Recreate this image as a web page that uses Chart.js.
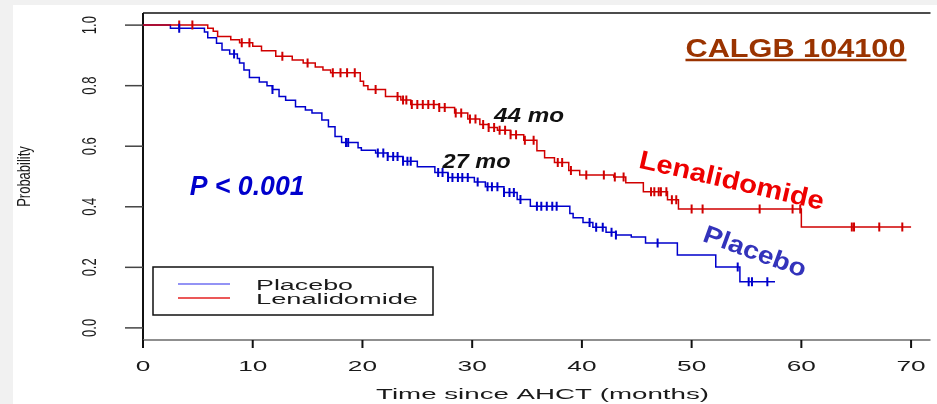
<!DOCTYPE html>
<html>
<head>
<meta charset="utf-8">
<title>CALGB 104100</title>
<script src="https://cdn.jsdelivr.net/npm/chart.js@4.4.0/dist/chart.umd.min.js"></script>
<style>
  html, body { margin: 0; padding: 0; background: #f1f1f1; }
  #wrap { position: absolute; left: 13px; top: 5px; width: 924px; height: 399px; background: #fff; }
</style>
</head>
<body>
<div id="wrap"><canvas id="kmChart" width="924" height="399"></canvas></div>
<script>
const seriesNames = ['Placebo', 'Lenalidomide'];

// Kaplan-Meier steps: time (months) and survival after the drop
const placeboTimes = [0, 2.5, 5.6, 5.9, 6.7, 7.2, 7.9, 8.6, 8.8, 9.2, 9.7, 10.6, 11.3, 11.8, 12.4, 13.0, 13.9, 14.8, 15.4, 16.3, 16.9, 17.5, 18.1, 19.6, 19.9, 21.2, 22.3, 23.7, 25.0, 26.6, 27.8, 30.2, 31.2, 32.9, 34.1, 35.3, 38.9, 39.2, 40.1, 41.0, 42.2, 43.1, 44.5, 45.8, 48.7, 52.2, 54.4, 57.6];
const placeboSurv = [1.0, 0.99, 0.977, 0.958, 0.94, 0.918, 0.905, 0.89, 0.875, 0.852, 0.827, 0.812, 0.80, 0.787, 0.764, 0.752, 0.73, 0.72, 0.71, 0.687, 0.664, 0.632, 0.612, 0.595, 0.587, 0.578, 0.566, 0.55, 0.532, 0.513, 0.497, 0.482, 0.466, 0.447, 0.424, 0.402, 0.378, 0.364, 0.348, 0.332, 0.316, 0.307, 0.30, 0.28, 0.241, 0.201, 0.152, 0.152];
const placeboCensor = [3.3, 8.3, 11.8, 18.5, 18.7, 21.4, 21.9, 22.3, 22.8, 23.2, 23.7, 24.1, 24.4, 26.9, 27.3, 27.8, 28.2, 28.7, 29.1, 29.6, 30.5, 31.4, 31.8, 32.3, 32.9, 33.4, 33.8, 34.4, 35.9, 36.3, 36.8, 37.3, 37.7, 40.7, 41.3, 41.9, 42.7, 43.1, 46.9, 54.2, 55.2, 55.5, 56.9];

const lenaTimes = [0, 5.9, 6.4, 6.8, 8.0, 8.8, 10.0, 10.8, 12.1, 13.6, 14.6, 15.7, 16.4, 17.1, 19.8, 20.1, 20.5, 22.1, 23.5, 24.4, 27.0, 28.4, 29.6, 30.7, 31.5, 32.3, 33.5, 34.7, 35.9, 36.6, 37.5, 38.8, 39.8, 42.9, 44.0, 45.6, 47.8, 48.8, 60.0, 70.0];
const lenaSurv = [1.0, 0.99, 0.98, 0.962, 0.952, 0.942, 0.93, 0.915, 0.897, 0.885, 0.875, 0.862, 0.852, 0.843, 0.815, 0.80, 0.787, 0.764, 0.753, 0.738, 0.728, 0.71, 0.69, 0.672, 0.662, 0.653, 0.638, 0.62, 0.585, 0.562, 0.546, 0.52, 0.505, 0.498, 0.479, 0.45, 0.423, 0.393, 0.333, 0.333];
const lenaCensor = [3.3, 4.5, 9.0, 9.7, 12.7, 15.0, 17.3, 18.0, 18.6, 19.3, 21.2, 23.2, 23.7, 24.0, 24.5, 25.0, 25.5, 26.0, 26.5, 27.0, 27.5, 28.5, 29.0, 29.8, 30.3, 31.0, 31.5, 32.0, 32.5, 33.0, 33.5, 34.0, 34.8, 35.6, 37.8, 38.2, 39.0, 40.4, 42.0, 43.0, 43.8, 46.3, 46.6, 47.0, 47.2, 47.7, 48.2, 48.6, 50.0, 51.0, 56.2, 59.2, 59.9, 64.6, 64.8, 67.1, 69.2];

const xTicks = [0, 10, 20, 30, 40, 50, 60, 70];
const yTicks = [0, 0.2, 0.4, 0.6, 0.8, 1.0];
const yTickLabels = ['0.0', '0.2', '0.4', '0.6', '0.8', '1.0'];

const placeboColor = '#0000cc';
const lenaColor = '#d00000';
const rFont = '"Liberation Sans", Arial, sans-serif';

// survival value of a step curve at time t
function survAt(times, surv, t) {
  let s = surv[0];
  for (let i = 0; i < times.length; i++) {
    if (times[i] <= t) s = surv[i];
  }
  return s;
}

function toPoints(times, surv) {
  return times.map((t, i) => ({ x: t, y: surv[i] }));
}

function censorPoints(censor, times, surv) {
  return censor.map(t => ({ x: t, y: survAt(times, surv, t) }));
}

// text squeezed or widened to a given width
function fitText(ctx, text, x, y, o) {
  ctx.save();
  ctx.font = o.font;
  ctx.fillStyle = o.color;
  ctx.textAlign = 'left';
  ctx.textBaseline = o.baseline || 'alphabetic';
  const w = ctx.measureText(text).width;
  const sx = o.width ? o.width / w : (o.sx || 1);
  ctx.translate(x, y);
  if (o.angle) ctx.rotate(o.angle * Math.PI / 180);
  ctx.scale(sx, 1);
  let dx = 0;
  if (o.align === 'center') dx = -w / 2;
  if (o.align === 'right') dx = -w;
  ctx.fillText(text, dx, 0);
  ctx.restore();
}

const axesPlugin = {
  id: 'rAxes',
  beforeDatasetsDraw(chart) {
    const { ctx, chartArea: a, scales: { x, y } } = chart;
    ctx.save();
    // frame: top and left lines, bottom axis
    ctx.strokeStyle = '#111';
    ctx.lineWidth = 1.5;
    ctx.beginPath();
    ctx.moveTo(a.left, a.top);
    ctx.lineTo(a.right, a.top);
    ctx.stroke();
    ctx.lineWidth = 2;
    ctx.beginPath();
    ctx.moveTo(a.left, a.top);
    ctx.lineTo(a.left, a.bottom + 8);
    ctx.stroke();
    ctx.strokeStyle = '#6a6a6a';
    ctx.lineWidth = 1.5;
    ctx.beginPath();
    ctx.moveTo(a.left, a.bottom);
    ctx.lineTo(a.right, a.bottom);
    ctx.stroke();

    // x ticks and labels
    ctx.strokeStyle = '#111';
    ctx.lineWidth = 2;
    xTicks.forEach(v => {
      const px = x.getPixelForValue(v);
      ctx.beginPath();
      ctx.moveTo(px, a.bottom);
      ctx.lineTo(px, a.bottom + 8);
      ctx.stroke();
      fitText(ctx, String(v), px, a.bottom + 30.5, { font: '15px ' + rFont, color: '#1a1a1a', sx: 1.75, align: 'center' });
    });
    fitText(ctx, 'Time since AHCT (months)', 529.5, 394, { font: '15px ' + rFont, color: '#1a1a1a', width: 333, align: 'center' });

    // y ticks and rotated labels
    ctx.strokeStyle = '#444';
    ctx.lineWidth = 1.5;
    yTicks.forEach((v, i) => {
      const py = y.getPixelForValue(v);
      ctx.beginPath();
      ctx.moveTo(a.left - 18, py);
      ctx.lineTo(a.left, py);
      ctx.stroke();
      ctx.save();
      ctx.font = '13px ' + rFont;
      ctx.fillStyle = '#1a1a1a';
      ctx.textAlign = 'center';
      ctx.textBaseline = 'middle';
      ctx.translate(77, py);
      ctx.scale(1.6, 1);
      ctx.rotate(-Math.PI / 2);
      ctx.fillText(yTickLabels[i], 0, 0);
      ctx.restore();
    });
    ctx.save();
    ctx.font = '13px ' + rFont;
    ctx.fillStyle = '#1a1a1a';
    ctx.textAlign = 'center';
    ctx.textBaseline = 'middle';
    ctx.translate(12, y.getPixelForValue(0.5));
    ctx.scale(1.4, 1);
    ctx.rotate(-Math.PI / 2);
    ctx.fillText('Probability', 0, 0);
    ctx.restore();

    // legend box
    const lx = a.left + 10, ly = a.top + 254;
    ctx.strokeStyle = '#111';
    ctx.lineWidth = 1.5;
    ctx.strokeRect(lx, ly, 280, 48);
    const legendColors = ['#6f6ff2', '#e52020'];
    const legendWidths = [97, 162];
    seriesNames.forEach((name, i) => {
      const yy = ly + 17 + i * 14;
      ctx.strokeStyle = legendColors[i];
      ctx.lineWidth = 1.5;
      ctx.beginPath();
      ctx.moveTo(lx + 25, yy);
      ctx.lineTo(lx + 77, yy);
      ctx.stroke();
      fitText(ctx, name, lx + 103, yy + 5.5, { font: '14px ' + rFont, color: '#1a1a1a', width: legendWidths[i] });
    });
    ctx.restore();
  },
  afterDatasetsDraw(chart) {
    const { ctx, scales: { x, y } } = chart;
    const bold = '"Liberation Sans", Arial, sans-serif';
    // study title, underlined
    const tx = x.getPixelForValue(49.44), ty = y.getPixelForValue(0.895);
    fitText(ctx, 'CALGB 104100', tx, ty, { font: 'bold 26px ' + bold, color: '#9a3300', width: 220 });
    ctx.save();
    ctx.strokeStyle = '#9a3300';
    ctx.lineWidth = 2.5;
    ctx.beginPath();
    ctx.moveTo(tx, ty + 3);
    ctx.lineTo(tx + 221, ty + 3);
    ctx.stroke();
    ctx.restore();

    // medians
    fitText(ctx, '44 mo', x.getPixelForValue(32.0), y.getPixelForValue(0.680), { font: 'italic bold 21px ' + bold, color: '#111', width: 70 });
    fitText(ctx, '27 mo', x.getPixelForValue(27.3), y.getPixelForValue(0.528), { font: 'italic bold 21px ' + bold, color: '#111', width: 68 });
    fitText(ctx, 'P < 0.001', x.getPixelForValue(4.25), y.getPixelForValue(0.439), { font: 'italic bold 27px ' + bold, color: '#0000cc', width: 115 });

    // curve names along the lines
    fitText(ctx, 'Lenalidomide', x.getPixelForValue(45.08), y.getPixelForValue(0.530), { font: 'bold 26px ' + bold, color: '#ee0000', width: 189, angle: 13 });
    fitText(ctx, 'Placebo', x.getPixelForValue(50.9), y.getPixelForValue(0.288), { font: 'bold 25px ' + bold, color: '#3333bb', width: 108, angle: 20 });
  }
};

const ctx = document.getElementById('kmChart').getContext('2d');
const kmChart = new Chart(ctx, {
  type: 'line',
  data: {
    datasets: [
      {
        label: seriesNames[0],
        data: toPoints(placeboTimes, placeboSurv),
        stepped: true,
        borderColor: placeboColor,
        borderWidth: 1.5,
        pointRadius: 0,
        fill: false,
        order: 2
      },
      {
        label: seriesNames[1],
        data: toPoints(lenaTimes, lenaSurv),
        stepped: true,
        borderColor: lenaColor,
        borderWidth: 1.5,
        pointRadius: 0,
        fill: false,
        order: 1
      },
      {
        type: 'scatter',
        label: seriesNames[0] + ' censored',
        data: censorPoints(placeboCensor, placeboTimes, placeboSurv),
        pointStyle: 'line',
        pointRotation: 90,
        pointRadius: 4.5,
        pointBorderWidth: 2,
        borderColor: placeboColor,
        backgroundColor: placeboColor,
        showLine: false,
        order: 0
      },
      {
        type: 'scatter',
        label: seriesNames[1] + ' censored',
        data: censorPoints(lenaCensor, lenaTimes, lenaSurv),
        pointStyle: 'line',
        pointRotation: 90,
        pointRadius: 4.5,
        pointBorderWidth: 2,
        borderColor: lenaColor,
        backgroundColor: lenaColor,
        showLine: false,
        order: 0
      }
    ]
  },
  options: {
    responsive: false,
    animation: false,
    events: [],
    devicePixelRatio: 1,
    layout: { padding: { left: 130, top: 8, right: 0, bottom: 64 } },
    plugins: { legend: { display: false }, tooltip: { enabled: false } },
    scales: {
      x: { type: 'linear', min: 0, max: 71.77, display: false },
      y: { type: 'linear', min: -0.04, max: 1.04, display: false }
    }
  },
  plugins: [axesPlugin]
});
</script>
</body>
</html>
